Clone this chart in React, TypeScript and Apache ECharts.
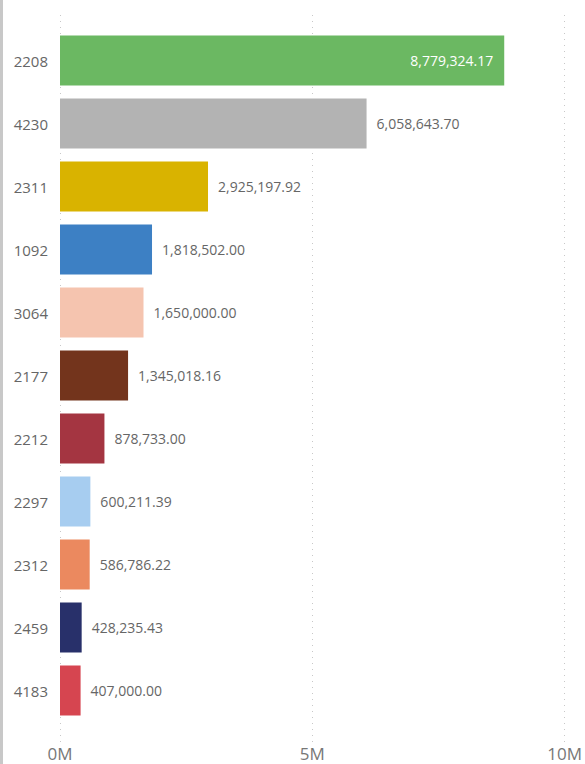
import React, { useEffect, useRef } from "react";
import * as echarts from "echarts";

const categories = ["2208", "4230", "2311", "1092", "3064", "2177", "2212", "2297", "2312", "2459", "4183"];
const values = [8779324.17, 6058643.7, 2925197.92, 1818502.0, 1650000.0, 1345018.16, 878733.0, 600211.39, 586786.22, 428235.43, 407000.0];
const colors = ["#6BB862", "#B3B3B3", "#D9B300", "#3D80C4", "#F5C4AF", "#73341C", "#A43541", "#A7CDF0", "#EB895F", "#28306A", "#D64550"];
const axisMax = 10000000;
const axisInterval = 5000000;

const FONT = "'Segoe UI', 'Open Sans', 'Noto Sans', sans-serif";

const fmt = (v: number) =>
  v.toLocaleString("en-US", { minimumFractionDigits: 2, maximumFractionDigits: 2 });

export default function App() {
  const ref = useRef<HTMLDivElement>(null);
  useEffect(() => {
    if (!ref.current) return;
    const chart = echarts.init(ref.current, undefined, { renderer: "svg" });
    const data = values.map((v, i) => {
      const inside = v > axisMax * 0.75;
      return {
        value: v,
        itemStyle: { color: colors[i] },
        label: inside
          ? { position: "insideRight", color: "#ffffff", distance: 11 }
          : { position: "right", color: "#666666", distance: 10 },
      };
    });
    chart.setOption({
      animation: false,
      graphic: [
        {
          type: "rect",
          shape: { x: 0, y: 0, width: 3, height: 764 },
          style: { fill: "#c8c8c8" },
          silent: true,
        },
      ],
      grid: [
        { left: 60, right: 19, top: 29, bottom: 42 },
        { left: 60, right: 19, top: 15, bottom: 22 },
      ],
      xAxis: [
        {
          gridIndex: 0,
          type: "value",
          min: 0,
          max: axisMax,
          interval: axisInterval,
          show: false,
        },
        {
          gridIndex: 1,
          type: "value",
          min: 0,
          max: axisMax,
          interval: axisInterval,
          axisLine: { show: false },
          axisTick: { show: false },
          splitLine: { show: true, lineStyle: { color: "#c8c8c8", type: [1, 5], width: 1 } },
          axisLabel: {
            margin: 3,
            fontSize: 17,
            lineHeight: 17,
            color: "#777777",
            fontFamily: FONT,
            formatter: (v: number) => v / 1000000 + "M",
          },
        },
      ],
      yAxis: [
        {
          gridIndex: 0,
          type: "category",
          data: categories,
          inverse: true,
          axisLine: { show: false },
          axisTick: { show: false },
          splitLine: { show: false },
          axisLabel: { margin: 12, fontSize: 15, color: "#666666", fontFamily: FONT },
        },
        { gridIndex: 1, type: "value", show: false, min: 0, max: 1 },
      ],
      series: [
        {
          type: "bar",
          xAxisIndex: 0,
          yAxisIndex: 0,
          barCategoryGap: "21%",
          data,
          label: {
            show: true,
            fontSize: 14,
            fontFamily: FONT,
            formatter: (p: any) => fmt(p.value),
          },
        },
      ],
    });
    return () => chart.dispose();
  }, []);
  return (
    <div
      ref={ref}
      style={{ position: "fixed", left: 0, top: 0, width: 585, height: 764, background: "#ffffff" }}
    />
  );
}
